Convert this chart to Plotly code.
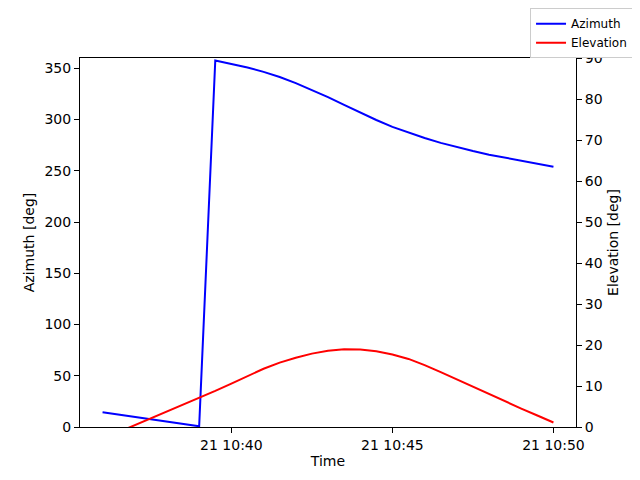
import pandas as pd
import plotly.graph_objects as go

# ----------------------------
# 資料 (讀圖估計)
# ----------------------------
times = ["2023-06-21 10:36:00", "2023-06-21 10:39:00"] + [
    str(t) for t in pd.date_range("2023-06-21 10:39:30", "2023-06-21 10:50:00", freq="30s")
]

azimuth = [14.3, 0.7,
           357.5, 354.5, 350.8, 346.5, 341.5, 335.5, 329.0, 321.8, 314.3, 306.8,
           299.5, 292.8, 287.0, 281.9, 277.2, 273.0, 269.2, 265.7, 262.6, 259.7,
           256.8, 254.0]

elevation = [-2.9, 7.0,
             8.8, 10.6, 12.5, 14.2, 15.7, 16.9, 17.9, 18.6, 18.95, 18.9,
             18.5, 17.7, 16.6, 15.1, 13.4, 11.6, 9.8, 7.9, 6.2, 4.5,
             2.8, 1.1]

x_ticks = ["2023-06-21 10:40:00", "2023-06-21 10:45:00", "2023-06-21 10:50:00"]
x_ticktext = ["21 10:40", "21 10:45", "21 10:50"]

# ----------------------------
# 畫圖
# ----------------------------
fig = go.Figure()

fig.add_trace(go.Scatter(x=times, y=azimuth, mode="lines",
                         line=dict(color="blue", width=2), name="Azimuth"))
fig.add_trace(go.Scatter(x=times, y=elevation, mode="lines", yaxis="y2",
                         line=dict(color="red", width=2), name="Elevation"))

axis_style = dict(showline=True, linecolor="black", linewidth=1, ticks="outside",
                  ticklen=5, tickcolor="black", showgrid=False, zeroline=False,
                  tickfont=dict(size=14, color="black"))

# 頁面本身有 8px 邊距, 所以圖縮小 8px
fig.update_layout(
    width=632, height=472,
    margin=dict(l=72, r=64, t=50, b=53, autoexpand=False),
    plot_bgcolor="white", paper_bgcolor="white",
    font=dict(family="DejaVu Sans", size=14, color="black"),
    xaxis=dict(**axis_style, mirror=True, type="date",
               range=["2023-06-21 10:35:18", "2023-06-21 10:50:42"],
               tickvals=x_ticks, ticktext=x_ticktext,
               title=dict(text="Time", standoff=4, font=dict(size=14))),
    yaxis=dict(**axis_style, range=[0, 360], tickvals=list(range(0, 351, 50)),
               title=dict(text="Azimuth [deg]", standoff=6, font=dict(size=14))),
    yaxis2=dict(**axis_style, overlaying="y", side="right", range=[0, 90],
                tickvals=list(range(0, 91, 10)),
                title=dict(text="Elevation [deg]", standoff=6, font=dict(size=14))),
    legend=dict(x=1.115, y=1.135, xanchor="right", yanchor="top",
                bgcolor="white", bordercolor="#cccccc", borderwidth=1,
                itemwidth=30, tracegroupgap=0,
                font=dict(size=12)),
)

fig.write_html("out.html")
